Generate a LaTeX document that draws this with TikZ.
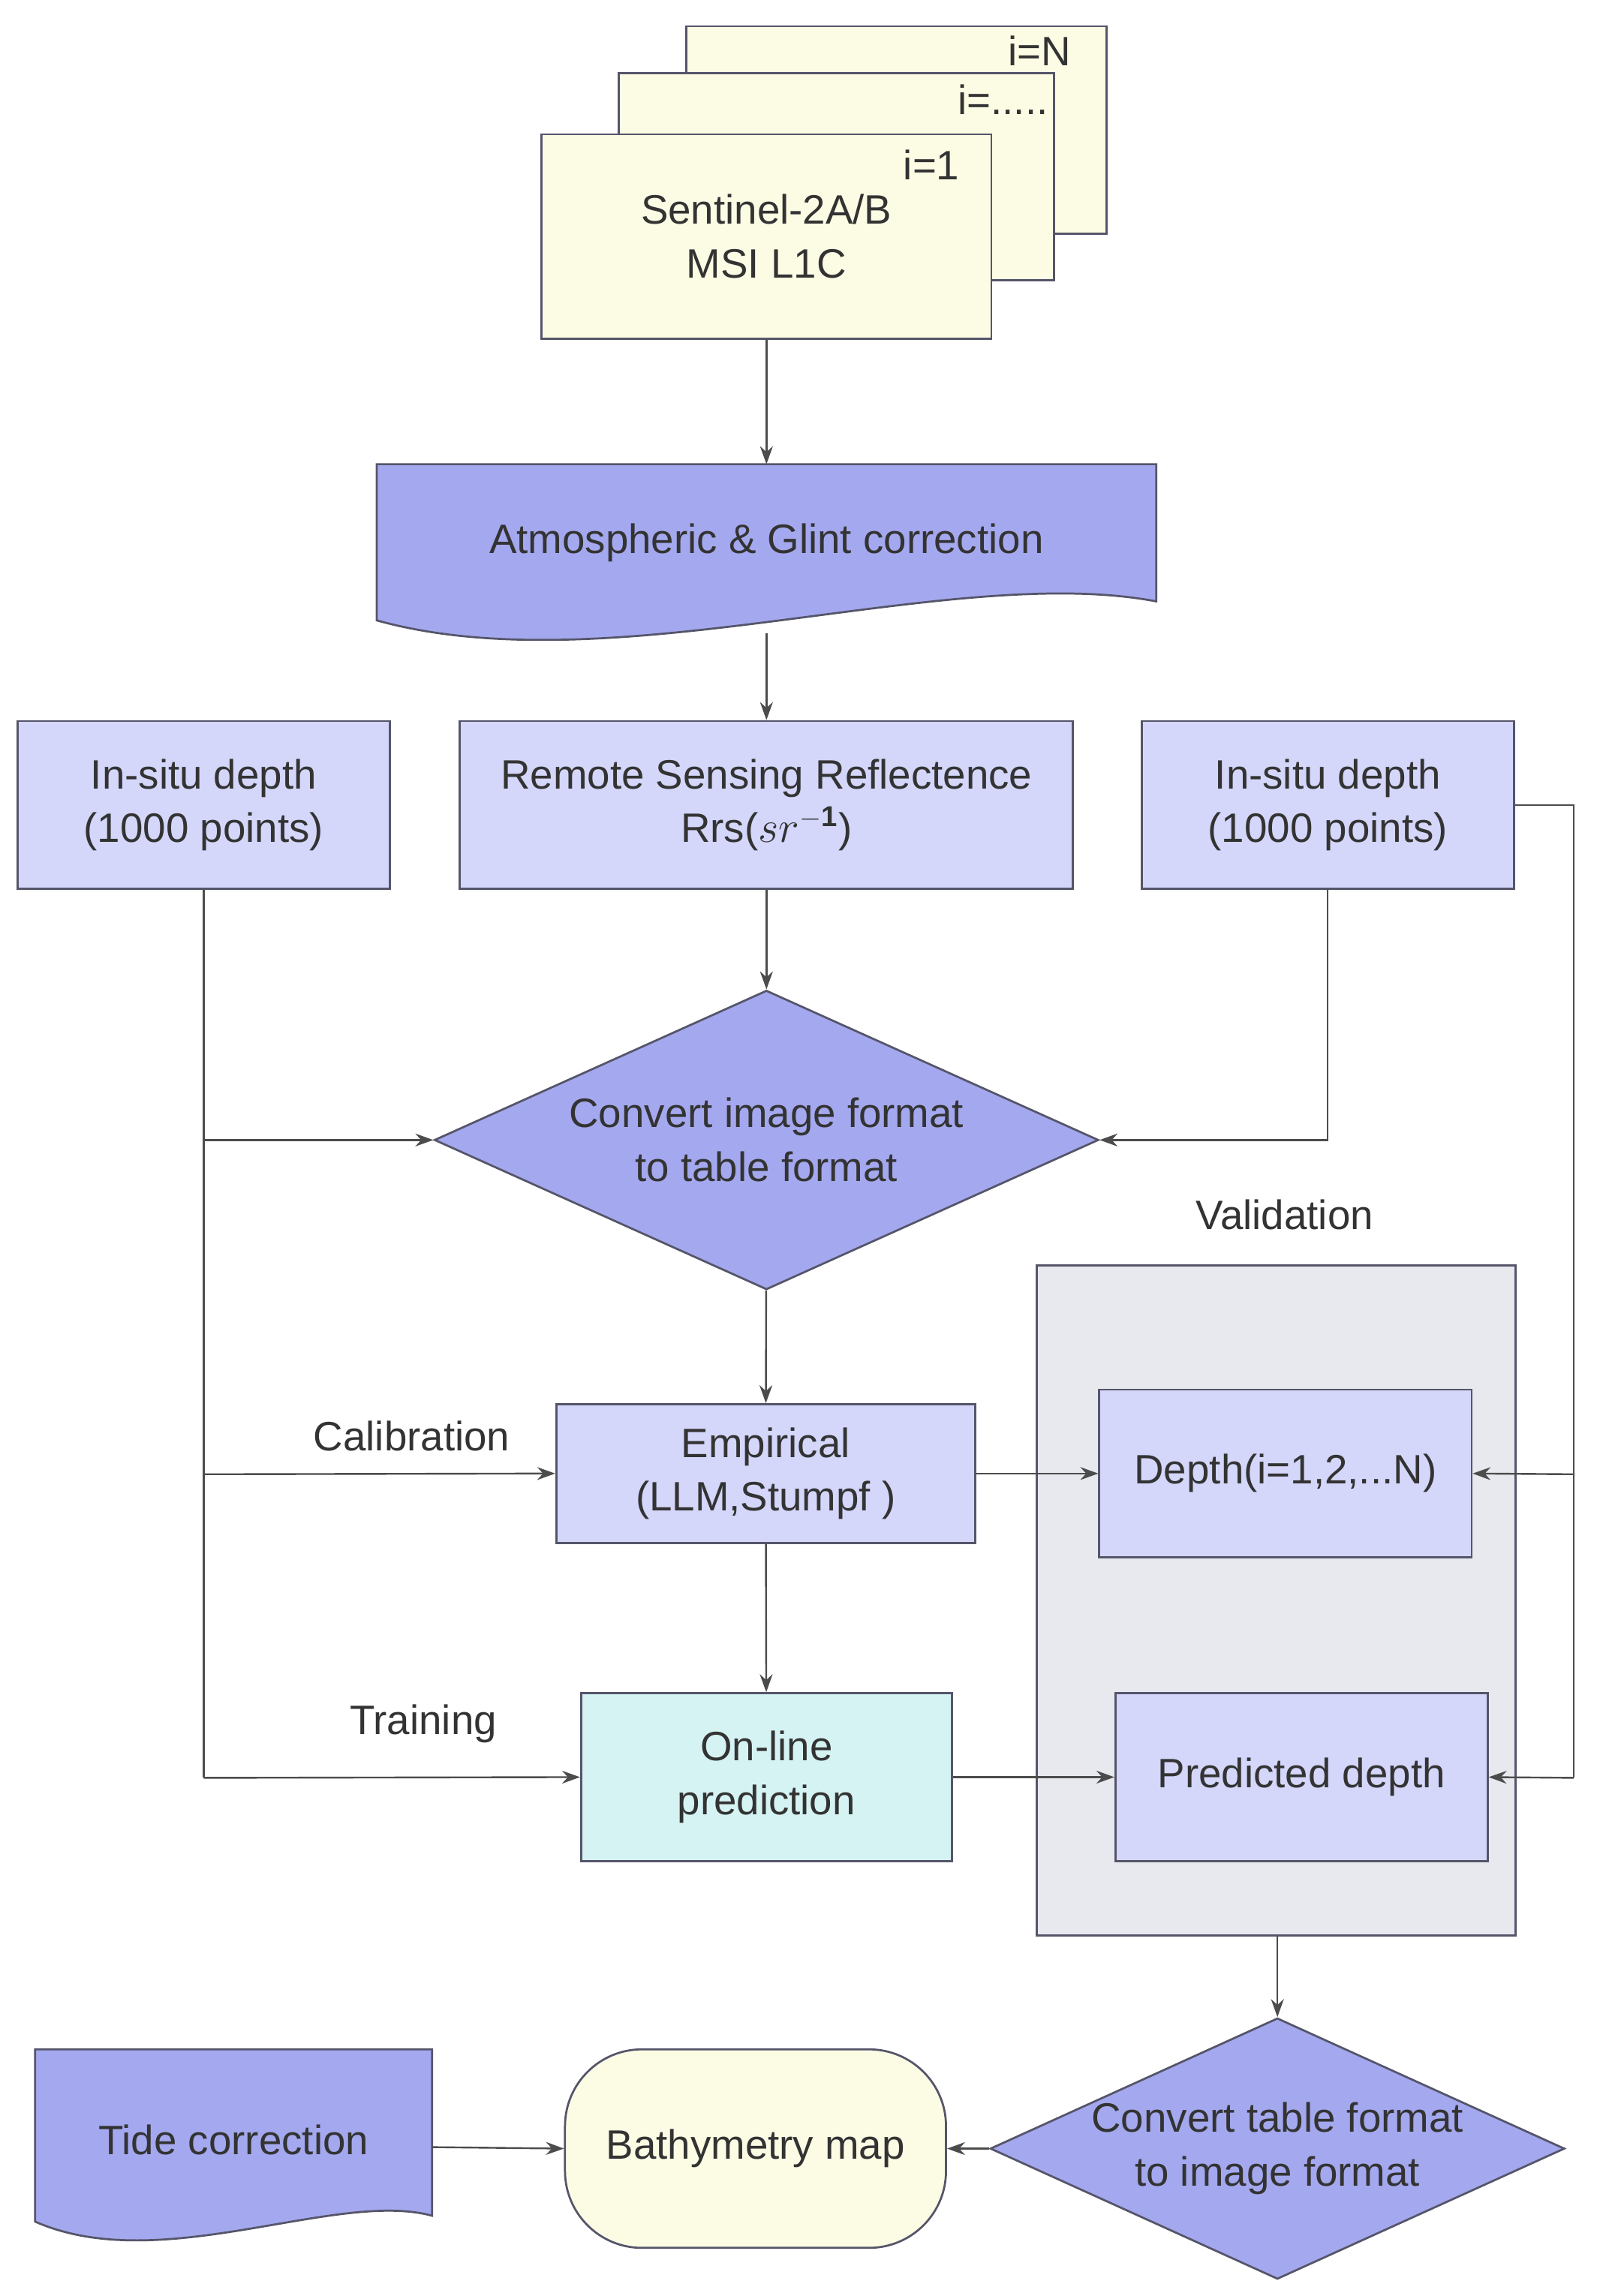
\documentclass[tikz,border=0pt]{standalone}
\usepackage{amsmath}
\usepackage{fontspec}
\setmainfont{Liberation Sans}
\usetikzlibrary{arrows.meta,shapes.geometric,positioning}
\definecolor{boxblue}{HTML}{D4D6FA}
\definecolor{deepblue}{HTML}{A4A8EE}
\definecolor{cream}{HTML}{FCFBE4}
\definecolor{mint}{HTML}{D6F3F3}
\definecolor{panel}{HTML}{E7E9EE}
\definecolor{edge}{HTML}{55556A}
\tikzset{
  base/.style={draw=edge,line width=0.8pt,align=center,font=\fontsize{16}{21}\selectfont,text=black!80},
  box/.style={base,rectangle,fill=boxblue,inner sep=0pt},
  dia/.style={base,diamond,fill=deepblue,inner sep=0pt,aspect=2.2},
  conn/.style={draw=black!70,line width=0.7pt,-{Stealth[length=7pt,width=5pt]}},
  line/.style={draw=black!70,line width=0.7pt},
  lab/.style={font=\fontsize{16}{20}\selectfont,text=black!80}
}
\begin{document}
\begin{tikzpicture}[x=0.02cm,y=-0.02cm]
  \useasboundingbox (0,0) rectangle (1100,1573);

  % image stack
  \draw[base,fill=cream] (470,18) rectangle (758,160);
  \draw[base,fill=cream] (424,50) rectangle (722,192);
  \node[box,fill=cream,minimum width=308*0.02cm,minimum height=140*0.02cm] (s2) at (525,162) {Sentinel-2A/B\\MSI L1C};
  \node[lab] (iN) at (712,35) {i=N};
  \node[lab] (idots) at (687,68) {i=.....};
  \node[lab] (i1) at (638,113) {i=1};

  % atmospheric correction (document shape)
  \draw[base,fill=deepblue] (258,318) -- (792,318) -- (792,412)
     .. controls (650,385) and (420,470) .. (258,425) -- cycle;
  \node[lab] (atm) at (525,372) {Atmospheric \& Glint correction};
  \coordinate (atmtop) at (525,318);
  \coordinate (atmbot) at (525,434);

  % top row
  \node[box,minimum width=255*0.02cm,minimum height=115*0.02cm] (insituL) at (139.5,551.5) {In-situ depth\\(1000 points)};
  \node[box,minimum width=420*0.02cm,minimum height=115*0.02cm] (rrs) at (525,551.5) {Remote Sensing Reflectence\\Rrs($sr^{\mathbf{-1}}$)};
  \node[box,minimum width=255*0.02cm,minimum height=115*0.02cm] (insituR) at (909.5,551.5) {In-situ depth\\(1000 points)};

  \node[dia,minimum width=455*0.02cm,minimum height=205*0.02cm] (conv) at (525,781) {Convert image format\\to table format};

  % validation panel
  \draw[base,fill=panel] (710,867) rectangle (1038,1326);
  \coordinate (panelbot) at (875,1326);
  \node[lab] (val) at (880,832) {Validation};

  \node[box,minimum width=287*0.02cm,minimum height=95*0.02cm] (emp) at (524.5,1009.5) {Empirical\\(LLM,Stumpf )};
  \node[box,minimum width=255*0.02cm,minimum height=115*0.02cm] (depth) at (880.5,1009.5) {Depth(i=1,2,...N)};
  \node[box,fill=mint,minimum width=254*0.02cm,minimum height=115*0.02cm] (online) at (525,1217.5) {On-line\\prediction};
  \node[box,minimum width=255*0.02cm,minimum height=115*0.02cm] (pred) at (891.5,1217.5) {Predicted depth};
  \node[lab] (cal) at (282,984) {Calibration};
  \node[lab] (train) at (290,1181) {Training};

  % bottom row
  \draw[base,fill=deepblue] (24,1404) -- (296,1404) -- (296,1518)
     .. controls (230,1500) and (110,1560) .. (24,1522) -- cycle;
  \node[lab] (tide) at (160,1466) {Tide correction};
  \coordinate (tideR) at (296,1471);
  \node[base,rectangle,rounded corners=30pt,fill=cream,minimum width=261*0.02cm,minimum height=136*0.02cm] (bathy) at (517.5,1472) {Bathymetry map};
  \node[dia,minimum width=362*0.02cm,minimum height=170*0.02cm] (conv2) at (875,1472) {Convert table format\\to image format};

  % connectors
  \draw[conn] (s2) -- (atmtop);
  \draw[conn] (atmbot) -- (rrs);
  \draw[conn] (rrs) -- (conv);
  \draw[line] (insituL.south) -- (139.5,1218);
  \draw[conn] (139.5,781) -- (conv.west);
  \draw[conn] (139.5,1010) -- (emp.west);
  \draw[conn] (139.5,1218) -- (online.west);
  \draw[conn] (insituR.south) |- (conv.east);
  \draw[line] (insituR.east) -| (1078,1218);
  \draw[conn] (1078,1010) -- (depth.east);
  \draw[conn] (1078,1218) -- (pred.east);
  \draw[conn] (conv) -- (emp);
  \draw[conn] (emp) -- (online);
  \draw[conn] (emp) -- (depth);
  \draw[conn] (online) -- (pred);
  \draw[conn] (panelbot) -- (conv2.north);
  \draw[conn] (conv2.west) -- (bathy.east);
  \draw[conn] (tideR) -- (bathy.west);
\end{tikzpicture}
\end{document}
